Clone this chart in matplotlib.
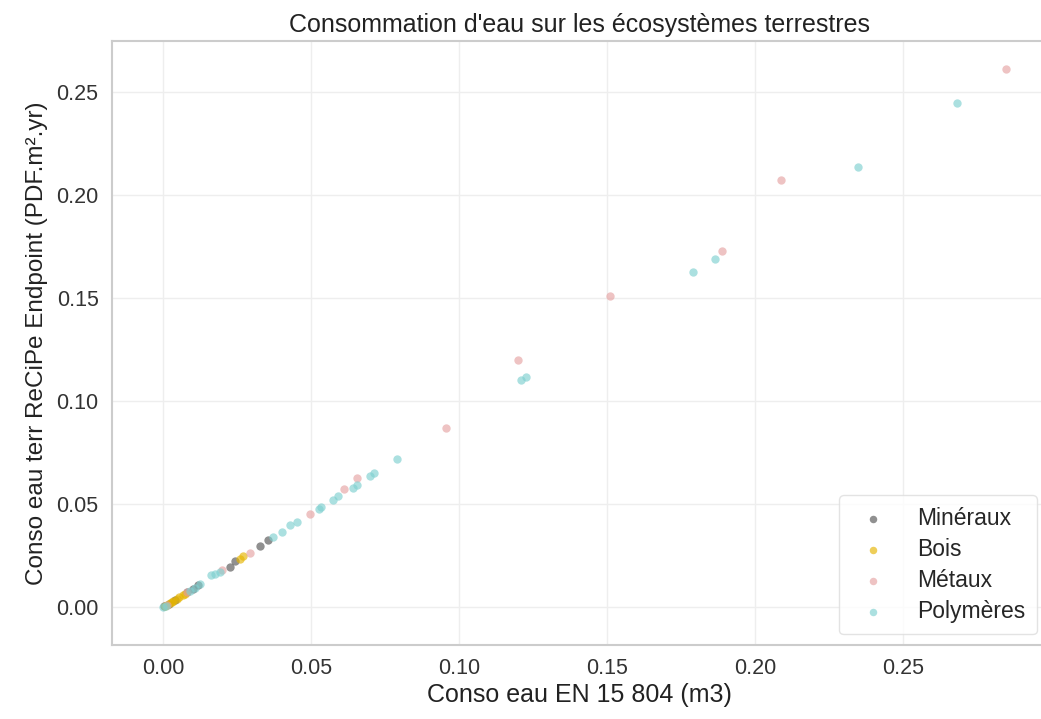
#!/usr/bin/env python3

import numpy as np
import matplotlib.pyplot as plt
import seaborn as sns

# conso eau EN 15 804 (m3) / conso eau terr ReCiPe (PDF.m2.yr)
mineraux_x = [0.0005, 0.0020, 0.0040, 0.0080, 0.0100, 0.0120, 0.0226, 0.0245, 0.0328, 0.0356]
mineraux_y = [0.0005, 0.0015, 0.0035, 0.0072, 0.0090, 0.0110, 0.0197, 0.0225, 0.0297, 0.0325]

bois_x = [0.0008, 0.0015, 0.0024, 0.0030, 0.0035, 0.0046, 0.0055, 0.0069, 0.0075, 0.0260, 0.0271]
bois_y = [0.0006, 0.0012, 0.0022, 0.0028, 0.0030, 0.0042, 0.0050, 0.0060, 0.0065, 0.0232, 0.0250]

metaux_x = [0.2849, 0.2087, 0.1890, 0.1511, 0.1199, 0.0958, 0.0656, 0.0612,
            0.0496, 0.0294, 0.0198, 0.0080, 0.0015]
metaux_y = [0.2609, 0.2071, 0.1726, 0.1510, 0.1200, 0.0868, 0.0629, 0.0574,
            0.0452, 0.0262, 0.0181, 0.0075, 0.0013]

polymeres_x = [0.2684, 0.2348, 0.1865, 0.1791, 0.1211, 0.1228, 0.0791, 0.0713, 0.0701,
               0.0656, 0.0643, 0.0593, 0.0575, 0.0534, 0.0528, 0.0452, 0.0429, 0.0401,
               0.0373, 0.0193, 0.0176, 0.0164, 0.0125, 0.0108, 0.0091, 0.0001, 0.0010]
polymeres_y = [0.2447, 0.2137, 0.1691, 0.1625, 0.1100, 0.1115, 0.0721, 0.0653, 0.0638,
               0.0592, 0.0580, 0.0540, 0.0520, 0.0488, 0.0478, 0.0415, 0.0399, 0.0367,
               0.0339, 0.0173, 0.0162, 0.0155, 0.0114, 0.0095, 0.0078, 0.0002, 0.0008]

groups = ["Minéraux", "Bois", "Métaux", "Polymères"]
colors = ["#555555", "#e5b400", "#e6a3a3", "#7fd0d0"]

sns.set_theme(style="whitegrid")
plt.rcParams['font.family'] = ['Liberation Sans', 'DejaVu Sans']

fig = plt.figure(figsize=(10.41, 7.19), dpi=100)
ax = fig.add_axes([0.1073, 0.1029, 0.8994, 0.8405])

data = [(mineraux_x, mineraux_y), (bois_x, bois_y),
        (metaux_x, metaux_y), (polymeres_x, polymeres_y)]
for (x, y), name, c in zip(data, groups, colors):
    ax.scatter(x, y, s=36, color=c, alpha=0.65, linewidth=0, label=name)

ax.set_xlim(-0.0173, 0.299)
ax.set_ylim(-0.0183, 0.2748)
ax.set_xticks(np.arange(0, 0.26, 0.05))
ax.set_yticks(np.arange(0, 0.26, 0.05))
ax.xaxis.set_major_formatter(plt.FormatStrFormatter('%.2f'))
ax.yaxis.set_major_formatter(plt.FormatStrFormatter('%.2f'))
ax.tick_params(labelsize=15.5, colors='#333333')
ax.grid(True, color='#eeeeee', linewidth=1)
for sp in ax.spines.values():
    sp.set_color('#cccccc')
    sp.set_linewidth(1.5)

ax.set_title("Consommation d'eau sur les écosystèmes terrestres", fontsize=18, color='#222222', pad=6)
ax.set_xlabel("Conso eau EN 15 804 (m3)", fontsize=18, color='#222222', labelpad=3)
ax.set_ylabel("Conso eau terr ReCiPe Endpoint (PDF.m².yr)", fontsize=17.5, color='#222222', labelpad=6)

leg = ax.legend(loc='lower right', bbox_to_anchor=(0.988, 0.018), borderaxespad=0,
                fontsize=16.5, frameon=True, markerscale=0.9, handletextpad=0.9,
                borderpad=0.5, labelspacing=0.35)
leg.get_frame().set_edgecolor('#dddddd')

fig.savefig("out.png", dpi=100)
